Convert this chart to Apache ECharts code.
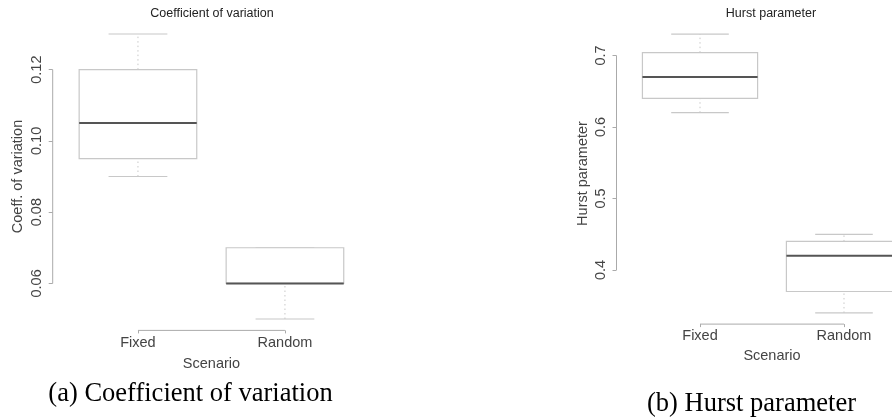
<!DOCTYPE html>
<html>
<head>
<meta charset="utf-8">
<script src="https://cdn.jsdelivr.net/npm/echarts@6/dist/echarts.min.js"></script>
<style>html,body{margin:0;padding:0;background:#fff}#c{width:892px;height:418px}</style>
</head>
<body>
<div id="c"></div>
<script>
// ---- data ----
const categories = ['Fixed', 'Random'];
// [lower whisker, Q1, median, Q3, upper whisker]
const cvFixed = [0.090, 0.095, 0.105, 0.120, 0.130];
const cvRandom = [0.050, 0.060, 0.060, 0.070, 0.070];
const hurstFixed = [0.62, 0.64, 0.67, 0.704, 0.73];
const hurstRandom = [0.34, 0.37, 0.42, 0.44, 0.45];
const cvTicks = [0.06, 0.08, 0.10, 0.12];
const hurstTicks = [0.4, 0.5, 0.6, 0.7];
const catPositions = [1, 2];

const FONT = 'Liberation Sans, Arial, sans-serif';
const TEXT = '#444';

function renderBox(params, api) {
  const x = api.value(0);
  const y = [1, 2, 3, 4, 5].map(i => api.coord([x, api.value(i)])[1]);
  const cx = api.coord([x, api.value(3)])[0];
  const hb = api.size([0.4, 0])[0];
  const hc = api.size([0.2, 0])[0];
  const light = '#c8c8c8';
  return {
    type: 'group',
    children: [
      { type: 'line', shape: { x1: cx, y1: y[3], x2: cx, y2: y[4] }, style: { stroke: light, lineWidth: 1, lineDash: [1.5, 3] } },
      { type: 'line', shape: { x1: cx, y1: y[0], x2: cx, y2: y[1] }, style: { stroke: light, lineWidth: 1, lineDash: [1.5, 3] } },
      { type: 'line', shape: { x1: cx - hc, y1: y[4], x2: cx + hc, y2: y[4] }, style: { stroke: light, lineWidth: 1.2 } },
      { type: 'line', shape: { x1: cx - hc, y1: y[0], x2: cx + hc, y2: y[0] }, style: { stroke: light, lineWidth: 1.2 } },
      { type: 'rect', shape: { x: cx - hb, y: y[3], width: 2 * hb, height: y[1] - y[3] }, style: { fill: '#fff', stroke: light, lineWidth: 1.2 } },
      { type: 'line', shape: { x1: cx - hb, y1: y[2], x2: cx + hb, y2: y[2] }, style: { stroke: '#555', lineWidth: 2 } }
    ]
  };
}

function renderAxes(params, api) {
  const x1 = api.value(0), x2 = api.value(1), t0 = api.value(2), t1 = api.value(3);
  const cs = params.coordSys;
  const yb = cs.y + cs.height;
  const ax = cs.x;
  const col = '#aaa';
  const pa = api.coord([x1, t0]), pb = api.coord([x2, t0]);
  const ya = api.coord([x1, t0])[1], yc = api.coord([x1, t1])[1];
  return {
    type: 'group',
    children: [
      { type: 'line', shape: { x1: ax, y1: ya, x2: ax, y2: yc }, style: { stroke: col, lineWidth: 1 } },
      { type: 'line', shape: { x1: pa[0], y1: yb, x2: pb[0], y2: yb }, style: { stroke: col, lineWidth: 1 } }
    ]
  };
}

function yAxisCfg(idx, min, max, ticks, name, digits, gap) {
  return {
    gridIndex: idx, type: 'value', min: min, max: max,
    axisLine: { show: false },
    splitLine: { show: false },
    axisTick: { show: true, customValues: ticks, length: 4, lineStyle: { color: '#aaa' } },
    axisLabel: { customValues: ticks, rotate: 90, margin: 8, fontSize: 14.5, fontFamily: FONT, color: TEXT,
      formatter: v => Number(v).toFixed(digits) },
    name: name, nameLocation: 'middle', nameGap: gap, nameRotate: 90,
    nameTextStyle: { fontSize: 14.5, fontFamily: FONT, color: TEXT }
  };
}
function xAxisCfg(idx, gap, margin) {
  return {
    gridIndex: idx, type: 'value', min: 0.42, max: 2.58,
    axisLine: { show: false },
    splitLine: { show: false },
    axisTick: { show: true, customValues: catPositions, length: 3, lineStyle: { color: '#aaa' } },
    axisLabel: { customValues: catPositions, margin: margin, fontSize: 14.5, fontFamily: FONT, color: TEXT,
      formatter: v => categories[Math.round(v) - 1] },
    name: 'Scenario', nameLocation: 'middle', nameGap: gap,
    nameTextStyle: { fontSize: 14.5, fontFamily: FONT, color: TEXT }
  };
}

const chart = echarts.init(document.getElementById('c'), null, { renderer: 'canvas' });
chart.setOption({
  animation: false,
  backgroundColor: '#fff',
  grid: [
    { left: 52.7, top: 22.6, width: 317.5, height: 307.8, outerBoundsMode: 'none', containLabel: false },
    { left: 616.5, top: 22.9, width: 311, height: 301.2, outerBoundsMode: 'none', containLabel: false }
  ],
  xAxis: [xAxisCfg(0, 26, 5), xAxisCfg(1, 23, 4)],
  yAxis: [
    yAxisCfg(0, 0.0468, 0.1332, cvTicks, 'Coeff. of variation', 2, 27),
    yAxisCfg(1, 0.3244, 0.7456, hurstTicks, 'Hurst parameter', 1, 26)
  ],
  graphic: [
    { type: 'text', x: 212, y: 14, style: { text: 'Coefficient of variation', fontSize: 12.5, fontFamily: FONT, fill: '#222', align: 'center', verticalAlign: 'middle' } },
    { type: 'text', x: 771, y: 14, style: { text: 'Hurst parameter', fontSize: 12.5, fontFamily: FONT, fill: '#222', align: 'center', verticalAlign: 'middle' } },
    { type: 'text', x: 190.5, y: 394, style: { text: '(a) Coefficient of variation', fontSize: 26.5, fontFamily: 'Liberation Serif, Times New Roman, serif', fill: '#000', align: 'center', verticalAlign: 'middle' } },
    { type: 'text', x: 751.5, y: 404, style: { text: '(b) Hurst parameter', fontSize: 26.5, fontFamily: 'Liberation Serif, Times New Roman, serif', fill: '#000', align: 'center', verticalAlign: 'middle' } }
  ],
  series: [
    { type: 'custom', xAxisIndex: 0, yAxisIndex: 0, renderItem: renderAxes,
      data: [[catPositions[0], catPositions[1], cvTicks[0], cvTicks[cvTicks.length - 1]]] },
    { type: 'custom', xAxisIndex: 1, yAxisIndex: 1, renderItem: renderAxes,
      data: [[catPositions[0], catPositions[1], hurstTicks[0], hurstTicks[hurstTicks.length - 1]]] },
    { type: 'custom', xAxisIndex: 0, yAxisIndex: 0, renderItem: renderBox, encode: { x: 0, y: [1, 2, 3, 4, 5] },
      data: [[catPositions[0]].concat(cvFixed), [catPositions[1]].concat(cvRandom)] },
    { type: 'custom', xAxisIndex: 1, yAxisIndex: 1, renderItem: renderBox, encode: { x: 0, y: [1, 2, 3, 4, 5] },
      data: [[catPositions[0]].concat(hurstFixed), [catPositions[1]].concat(hurstRandom)] }
  ]
});
</script>
</body>
</html>
